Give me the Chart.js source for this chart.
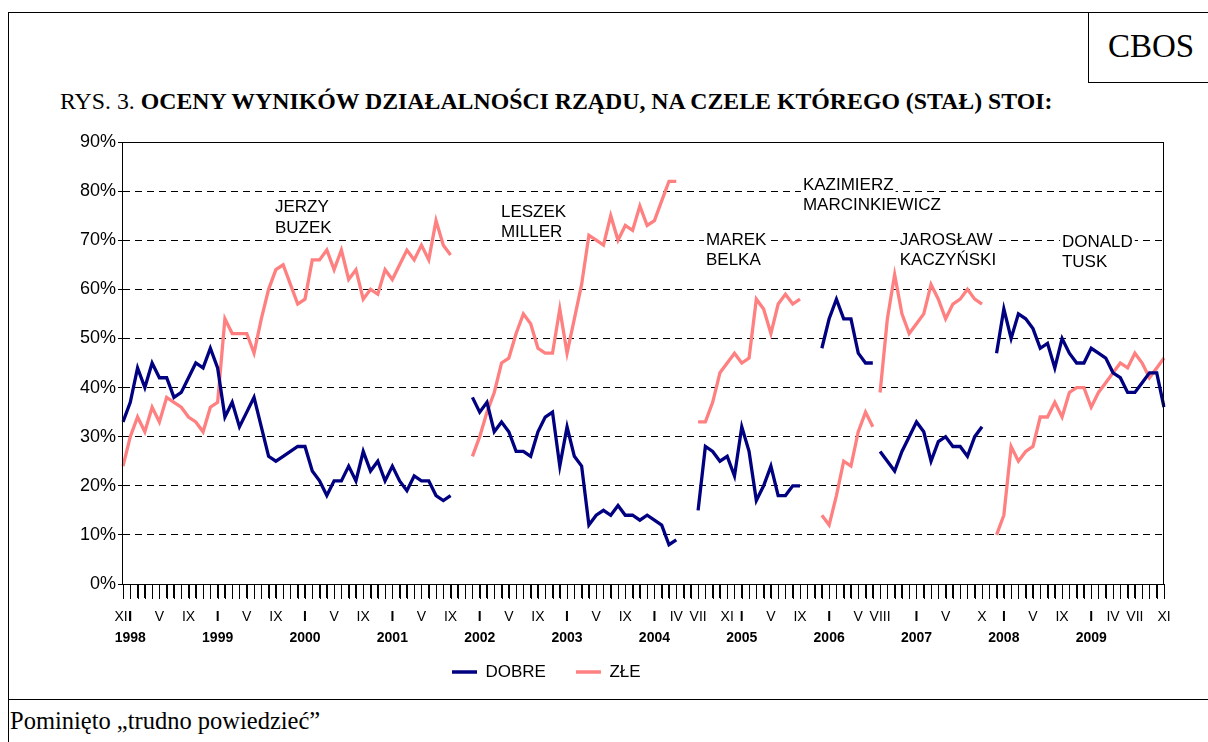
<!DOCTYPE html>
<html><head><meta charset="utf-8">
<script src="https://cdn.jsdelivr.net/npm/chart.js@4.4.0/dist/chart.umd.min.js"></script>
<style>
html,body{margin:0;padding:0;background:#fff;}
#wrap{position:relative;width:1208px;height:742px;overflow:hidden;background:#fff;}
#c{position:absolute;left:0;top:0;}
.ln{position:absolute;background:#000;}
.serif{position:absolute;font-family:"Liberation Serif","Times New Roman",serif;color:#000;white-space:nowrap;line-height:1;}
</style></head><body>
<div id="wrap">
  <div class="ln" style="left:8px;top:12px;width:1200px;height:1px"></div>
  <div class="ln" style="left:8px;top:12px;width:1px;height:730px"></div>
  <div class="ln" style="left:1088px;top:12px;width:1px;height:70px"></div>
  <div class="ln" style="left:1088px;top:82px;width:120px;height:1px"></div>
  <div class="ln" style="left:8px;top:699px;width:1200px;height:1px"></div>
  <div class="serif" style="left:1108px;top:30px;font-size:33px">CBOS</div>
  <div class="serif" style="left:60px;top:90px;font-size:23.8px">RYS. 3. <b>OCENY WYNIKÓW DZIAŁALNOŚCI RZĄDU, NA CZELE KTÓREGO (STAŁ) STOI:</b></div>
  <div class="serif" style="left:10px;top:709px;font-size:24.5px">Pominięto „trudno powiedzieć”</div>
  <canvas id="c" width="1208" height="742"></canvas>
</div>
<script>
// ---- categories: months XII 1997 ... XI 2009 ----
const romanMonths = ['I','II','III','IV','V','VI','VII','VIII','IX','X','XI','XII'];
const categories = [];
for (let k = 0; k < 144; k++) {
  const m = (11 + k) % 12;
  const y = 1997 + Math.floor((11 + k) / 12);
  categories.push(romanMonths[m] + ' ' + y);
}

// ---- tick labels ----
const monthTickPos  = [0,1,5,9,13,17,21,25,29,33,37,41,45,49,53,57,61,65,69,73,76,79,83,85,89,93,97,101,104,109,113,118,121,125,129,133,136,139,143];
const monthTickText = ['XII','I','V','IX','I','V','IX','I','V','IX','I','V','IX','I','V','IX','I','V','IX','I','IV','VII','XI','I','V','IX','I','V','VIII','I','V','X','I','V','IX','I','IV','VII','XI'];
const yearTickPos  = [1,13,25,37,49,61,73,85,97,109,121,133];
const yearTickText = ['1998','1999','2000','2001','2002','2003','2004','2005','2006','2007','2008','2009'];

// ---- series (percent) ----
const dobre = [
  33,37,44,40,45,42,42,38,39,42,45,44,48,44,34,37,32,35,38,32,26,25,26,27,28,28,23,21,18,21,21,24,21,27,23,25,21,24,21,19,22,21,21,18,17,18,
  null,null,
  38,35,37,31,33,31,27,27,26,31,34,35,24,32,26,24,12,14,15,14,16,14,14,13,14,13,12,8,9,
  null,null,
  15,28,27,25,26,22,32,27,17,20,24,18,18,20,20,
  null,null,
  48,54,58,54,54,47,45,45,
  27,25,23,27,30,33,31,25,29,30,28,28,26,30,32,
  null,
  47,56,50,55,54,52,48,49,44,50,47,45,45,48,47,46,43,42,39,39,41,43,43,36
];
const zle = [
  24,30,34,31,36,33,38,37,36,34,33,31,36,37,54,51,51,51,47,54,60,64,65,61,57,58,66,66,68,64,68,62,64,58,60,59,64,62,65,68,66,69,66,74,69,67,
  null,null,
  26,30,35,39,45,46,51,55,53,48,47,47,56,47,54,61,71,70,69,75,70,73,72,77,73,74,78,82,82,
  null,null,
  33,33,37,43,45,47,45,46,58,56,51,57,59,57,58,
  null,null,
  14,12,18,25,24,31,35,32,
  39,54,63,55,51,53,55,61,58,54,57,58,60,58,57,
  null,
  10,14,28,25,27,28,34,34,37,34,39,40,40,36,39,41,43,45,44,47,45,42,44,46
];
// first month of a government that directly follows the previous one (no gap)
const governmentStarts = [104];

const govNames = [['JERZY','BUZEK'],['LESZEK','MILLER'],['MAREK','BELKA'],['KAZIMIERZ','MARCINKIEWICZ'],['JAROSŁAW','KACZYŃSKI'],['DONALD','TUSK']];

// ---- derived label arrays ----
const monthLabels = categories.map(() => '');
monthTickPos.forEach((p, i) => { monthLabels[p] = monthTickText[i]; });
const yearLabels = categories.map(() => '');
yearTickPos.forEach((p, i) => { yearLabels[p] = yearTickText[i]; });

const SANS = '"Liberation Sans", Arial, sans-serif';
const BLUE = '#000080', PINK = '#FF8080';

const segColor = ctx => governmentStarts.includes(ctx.p1DataIndex) ? 'rgba(0,0,0,0)' : undefined;

const namesPlugin = {
  id: 'govNames',
  beforeDatasetsDraw(chart, args, opts) {
    const {ctx, scales: {x, y}} = chart;
    ctx.save();
    ctx.font = '17px ' + SANS;
    ctx.textBaseline = 'alphabetic';
    ctx.textAlign = 'left';
    govNames.forEach((lines, i) => {
      const [ix, vy] = opts.anchors[i];
      const px = x.getPixelForValue(ix);
      const py = y.getPixelForValue(vy);
      lines.forEach((t, j) => {
        const by = py + j * opts.lineGap;
        const w = ctx.measureText(t).width;
        ctx.fillStyle = '#fff';
        ctx.fillRect(px - 2, by - 15, w + 4, 17.5);
        ctx.fillStyle = '#000';
        ctx.fillText(t, px, by);
      });
    });
    ctx.restore();
  },
  afterDatasetsDraw(chart) {
    const {ctx, chartArea: a} = chart;
    ctx.save();
    ctx.strokeStyle = '#000';
    ctx.lineWidth = 1;
    ctx.strokeRect(Math.round(a.left) - 0.5, Math.round(a.top) + 0.5, Math.round(a.right - a.left), Math.round(a.bottom - a.top));
    ctx.restore();
  },
  afterDraw(chart, args, opts) {
    // category tick marks below the x axis, one per month
    const {ctx, chartArea: a, scales: {x}} = chart;
    ctx.save();
    ctx.strokeStyle = '#000';
    ctx.lineWidth = 1;
    ctx.beginPath();
    const yb = Math.round(a.bottom);
    for (let i = 0; i < x.ticks.length; i++) {
      const px = Math.round(x.getPixelForTick(i)) + 0.5;
      ctx.moveTo(px, yb);
      ctx.lineTo(px, yb + opts.tickLen);
    }
    ctx.stroke();
    ctx.restore();
  }
};

const legendPos = {
  id: 'legendPos',
  afterLayout(chart, args, opts) {
    const lg = chart.legend;
    if (!lg) return;
    const w = lg.width, h = lg.height;
    lg.left = opts.left; lg.right = opts.left + w;
    lg.top = opts.top; lg.bottom = opts.top + h;
  }
};

new Chart(document.getElementById('c'), {
  type: 'line',
  data: {
    labels: categories,
    datasets: [
      {label: 'DOBRE', data: dobre, borderColor: BLUE, backgroundColor: BLUE, borderWidth: 3.3, pointRadius: 0, pointHoverRadius: 0, tension: 0, borderJoinStyle: 'miter', spanGaps: false, segment: {borderColor: segColor}},
      {label: 'ZŁE', data: zle, borderColor: PINK, backgroundColor: PINK, borderWidth: 3.3, pointRadius: 0, pointHoverRadius: 0, tension: 0, borderJoinStyle: 'miter', spanGaps: false, segment: {borderColor: segColor}}
    ]
  },
  options: {
    responsive: false,
    animation: false,
    devicePixelRatio: 1,
    events: [],
    layout: {padding: {left: 0, right: 44, top: 142, bottom: 38}},
    scales: {
      x: {
        type: 'category', labels: monthLabels, position: 'bottom', weight: 0, offset: false,
        grid: {display: true, drawOnChartArea: false, drawTicks: true, tickLength: 14, color: '#000', tickColor: '#000', lineWidth: 1, offset: false},
        border: {display: false},
        ticks: {autoSkip: false, maxRotation: 0, minRotation: 0, padding: 11, color: '#000',
          font: c => ({family: SANS, size: 14, weight: (c.tick && c.tick.label === 'I') ? 'bold' : 'normal'})},
        afterFit: s => { s.height = 43; }
      },
      x2: {
        type: 'category', labels: yearLabels, position: 'bottom', weight: 1, offset: false,
        grid: {display: false, drawTicks: false, drawOnChartArea: false},
        border: {display: false},
        ticks: {autoSkip: false, maxRotation: 0, minRotation: 0, padding: 3, color: '#000',
          font: {family: SANS, size: 14, weight: 'bold'}},
        afterFit: s => { s.height = 20; }
      },
      y: {
        min: 0, max: 90,
        ticks: {stepSize: 10, callback: v => v + '%', color: '#000', padding: 2, font: {family: SANS, size: 18}},
        grid: {color: '#000', lineWidth: 1, tickLength: 5, tickColor: '#000', tickBorderDash: []},
        border: {display: false, dash: [7, 5]},
        afterFit: s => { s.width = 123; }
      }
    },
    plugins: {
      legend: {
        display: true, position: 'bottom', align: 'start',
        labels: {usePointStyle: true, pointStyle: 'line', pointStyleWidth: 25, padding: 30, color: '#000', font: {family: SANS, size: 17}}
      },
      tooltip: {enabled: false},
      legendPos: {left: 422, top: 633.5},
      govNames: {
        lineGap: 20.5,
        tickLen: 15,
        anchors: [[20.88, 75.65], [51.92, 74.83], [80.08, 69.03], [93.4, 80.23], [106.7, 69.03], [128.98, 68.62]]
      }
    }
  },
  plugins: [namesPlugin, legendPos]
});
</script>
</body></html>
